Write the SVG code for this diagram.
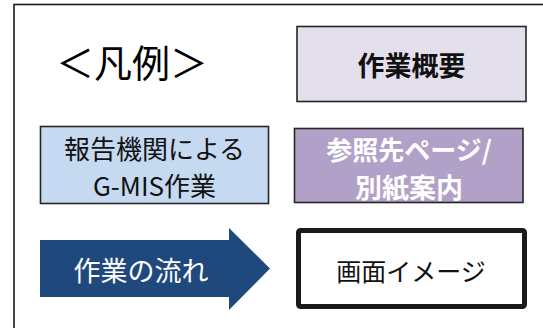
<svg xmlns="http://www.w3.org/2000/svg" width="543" height="328" viewBox="0 0 543 328">
<style>
.t{font-family:"Noto Sans CJK JP","Liberation Sans",sans-serif;text-anchor:middle;dominant-baseline:central}
.box{stroke:#262626;stroke-width:1.6}
</style>
<rect x="0" y="0" width="543" height="328" fill="#ffffff"/>
<g id="frame"><rect x="14" y="4.5" width="540" height="340" fill="none" stroke="#1a1a1a" stroke-width="1.6"/></g>
<g id="title"><text class="t" x="132" y="60" font-size="38" fill="#000">＜凡例＞</text></g>
<g id="overview"><rect class="box" x="297" y="26.5" width="229" height="75" fill="#E4DFEC"/><text class="t" x="411.5" y="64" font-size="27" font-weight="bold" fill="#111">作業概要</text></g>
<g id="reporter"><rect class="box" x="40.5" y="126.5" width="228" height="77" fill="#C5D9F1"/><text class="t" x="154.5" y="147" font-size="26" fill="#111">報告機関による</text><text class="t" x="154.5" y="184" font-size="26" fill="#111">G-MIS作業</text></g>
<g id="reference"><rect class="box" x="294.5" y="128.5" width="228.5" height="74" fill="#B1A0C7"/><text class="t" x="409" y="148" font-size="26" font-weight="bold" fill="#fff">参照先ページ/</text><text class="t" x="409" y="186" font-size="27" font-weight="bold" fill="#fff">別紙案内</text></g>
<g id="flow"><polygon points="40,240 229,240 229,228 270,268.5 229,310 229,297 40,297" fill="#1F497D"/><text class="t" x="141" y="269" font-size="27" fill="#fff">作業の流れ</text></g>
<g id="screen"><rect x="298.5" y="230.5" width="226" height="76" fill="#fff" stroke="#1a1a1a" stroke-width="5" rx="2"/><text class="t" x="411" y="270" font-size="25" fill="#111">画面イメージ</text></g>
<g id="connectors"></g>
</svg>
